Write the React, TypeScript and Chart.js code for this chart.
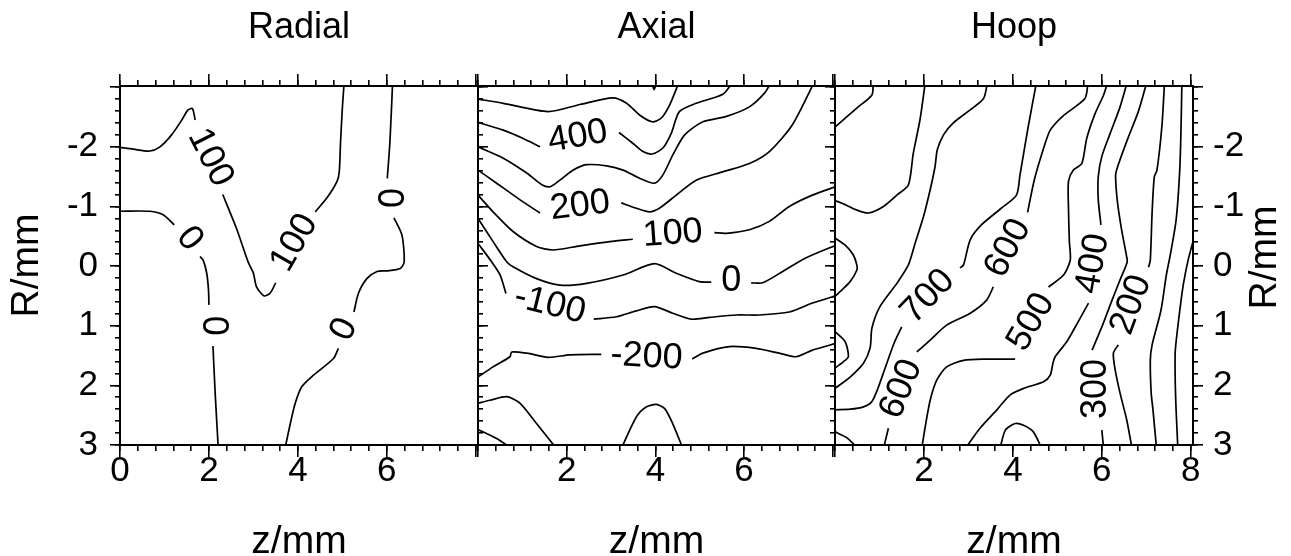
import React, { useEffect, useRef } from 'react';
import { Chart, registerables } from 'chart.js';

Chart.register(...registerables);

type Pt = [number, number];
type ContourLabel = [string, number, number, number]; // text, z, R, angle(deg)

// ---------- axes ----------
const Z_RANGE: [number, number] = [0, 8.05];
const R_RANGE: [number, number] = [-3.02, 3];
const panelTitles = ['Radial', 'Axial', 'Hoop'];
const xTickLabelsRadial = [0, 2, 4, 6];
const xTickLabelsAxial = [2, 4, 6];
const xTickLabelsHoop = [2, 4, 6, 8];
const yTickLabels = [-2, -1, 0, 1, 2, 3];

// ---------- Radial contours (z, R) ----------
const radial100a: Pt[] = [[0, -1.99], [0.3, -1.96], [0.67, -1.93], [0.9, -2.0], [1.16, -2.2], [1.39, -2.45], [1.53, -2.62], [1.63, -2.64], [1.69, -2.45]];
const radial100b: Pt[] = [[2.31, -1.2], [2.62, -0.63], [2.88, -0.07], [3.0, 0.12], [3.07, 0.35], [3.24, 0.5], [3.38, 0.45], [3.5, 0.28]];
const radial100c: Pt[] = [[4.39, -0.91], [4.65, -1.14], [4.88, -1.42], [4.93, -1.58], [4.96, -2.09], [5.0, -2.65], [5.04, -3.08]];
const radial0La: Pt[] = [[0, -0.92], [0.67, -0.92], [0.97, -0.86], [1.22, -0.69]];
const radial0Lb: Pt[] = [[1.8, -0.16], [1.87, -0.1], [1.95, 0.12], [1.99, 0.4], [2.0, 0.65]];
const radial0Lc: Pt[] = [[2.09, 1.34], [2.14, 2.13], [2.21, 3.06]];
const radial0Ra: Pt[] = [[6.13, -3.08], [6.07, -2.09], [6.01, -1.47]];
const radial0Rb: Pt[] = [[6.16, -0.81], [6.34, -0.52], [6.39, -0.07], [6.3, 0.04], [6.0, 0.08], [5.78, 0.09], [5.55, 0.21], [5.36, 0.46], [5.26, 0.77]];
const radial0Rc: Pt[] = [[4.91, 1.38], [4.8, 1.55], [4.35, 1.83], [4.09, 2.02], [3.94, 2.3], [3.83, 2.64], [3.71, 3.06]];
const radialLabels: ContourLabel[] = [
  ['100', 2.03, -1.82, 63], ['100', 3.92, -0.39, -60], ['0', 1.56, -0.46, 52],
  ['0', 2.09, 1.0, 90], ['0', 6.02, -1.14, 90], ['0', 5.04, 1.06, -64],
];

// ---------- Axial contours ----------
const axial500: Pt[] = [[0, -2.8], [0.57, -2.73], [1.58, -2.59], [2.3, -2.71], [3.04, -2.82], [3.35, -2.73], [3.65, -2.53], [3.93, -2.42], [4.13, -2.48], [4.32, -2.7], [4.53, -3.08]];
const axialNub: Pt[] = [[3.92, -3.08], [3.97, -2.96], [4.03, -3.08]];
const axial400a: Pt[] = [[0, -2.41], [0.57, -2.28], [1.02, -2.14], [1.4, -2.0]];
const axial400b: Pt[] = [[3.18, -2.24], [3.49, -2.06], [3.72, -1.92], [3.93, -1.88], [4.17, -1.98], [4.36, -2.23], [4.54, -2.59], [4.92, -2.73], [5.52, -2.88], [5.74, -3.08]];
const axial300: Pt[] = [[0, -2.0], [0.57, -1.81], [1.1, -1.56], [1.43, -1.37], [1.62, -1.33], [1.81, -1.42], [2.15, -1.61], [2.45, -1.7], [2.9, -1.68], [3.27, -1.61], [3.65, -1.47], [3.98, -1.39], [4.17, -1.53], [4.39, -1.86], [4.66, -2.2], [5.07, -2.42], [5.6, -2.51], [6.12, -2.67], [6.46, -2.9], [6.61, -3.08]];
const axial200a: Pt[] = [[0, -1.61], [0.42, -1.39], [0.95, -1.11], [1.4, -0.89]];
const axial200b: Pt[] = [[3.23, -1.06], [3.57, -0.97], [3.87, -0.91], [4.09, -0.97], [4.47, -1.19], [4.92, -1.44], [5.52, -1.58], [6.12, -1.72], [6.57, -1.92], [7.09, -2.37], [7.58, -3.08]];
const axial100a: Pt[] = [[0, -1.19], [0.34, -0.91], [0.79, -0.58], [1.32, -0.33], [1.69, -0.27], [2.3, -0.34], [2.97, -0.41], [3.49, -0.45]];
const axial100b: Pt[] = [[5.33, -0.56], [5.6, -0.55], [6.12, -0.61], [6.57, -0.75], [7.02, -1.0], [7.54, -1.19], [8.1, -1.34]];
const axial0a: Pt[] = [[0, -0.8], [0.34, -0.41], [0.65, -0.07], [0.79, 0.01], [1.32, 0.21], [1.85, 0.32], [2.45, 0.29], [3.27, 0.15], [3.98, -0.04], [4.47, 0.12], [4.99, 0.26], [5.26, 0.27]];
const axial0b: Pt[] = [[6.16, 0.28], [6.42, 0.28], [6.87, 0.09], [7.4, -0.14], [8.1, -0.36]];
const axialM100a: Pt[] = [[0, -0.38], [0.31, -0.07], [0.5, 0.15], [0.63, 0.46]];
const axialM100b: Pt[] = [[2.61, 0.89], [3.12, 0.85], [3.57, 0.75], [3.98, 0.68], [4.39, 0.79], [4.81, 0.89], [5.22, 0.86], [5.82, 0.82], [6.34, 0.82], [7.02, 0.77], [7.54, 0.62], [8.1, 0.49]];
const axialM200a: Pt[] = [[0, 1.86], [0.34, 1.69], [0.72, 1.52], [0.76, 1.44], [1.1, 1.46], [1.58, 1.53], [2.07, 1.49], [2.78, 1.48]];
const axialM200b: Pt[] = [[4.83, 1.56], [5.07, 1.46], [5.67, 1.35], [6.27, 1.38], [6.79, 1.46], [7.17, 1.52], [7.54, 1.41], [8.1, 1.29]];
const axialM300: Pt[] = [[0, 2.3], [0.27, 2.25], [0.65, 2.19], [0.95, 2.3], [1.32, 2.64], [1.77, 3.06]];
const axialM400: Pt[] = [[0, 2.74], [0.42, 2.89], [0.76, 3.06]];
const axialBump: Pt[] = [[3.23, 3.06], [3.57, 2.53], [3.8, 2.36], [4.02, 2.32], [4.21, 2.39], [4.39, 2.64], [4.62, 3.06]];
const axialLabels: ContourLabel[] = [
  ['400', 2.25, -2.17, -10], ['200', 2.3, -1.01, -7], ['100', 4.39, -0.54, -4],
  ['0', 5.71, 0.25, 0], ['-100', 1.62, 0.65, 14], ['-200', 3.8, 1.52, 3],
];

// ---------- Hoop contours ----------
const hoopH1: Pt[] = [[0.86, -3.08], [0.83, -2.87], [0.49, -2.65], [0.23, -2.48], [0, -2.33]];
const hoopH2: Pt[] = [[2.03, -3.08], [1.91, -2.45], [1.76, -1.89], [1.65, -1.36], [1.39, -1.19], [1.09, -1.0], [0.75, -0.89], [0.49, -0.94], [0.23, -1.03], [0, -1.1]];
const hoopH3: Pt[] = [[0, -0.47], [0.23, -0.35], [0.41, -0.19], [0.49, -0.02], [0.49, 0.07], [0.34, 0.26], [0.11, 0.43], [0, 0.51]];
const hoopH4: Pt[] = [[0, 1.1], [0.23, 1.27], [0.3, 1.52], [0.18, 1.61], [0, 1.71]];
const hoop800: Pt[] = [[3.43, -3.08], [3.34, -2.81], [3.04, -2.62], [2.66, -2.4], [2.44, -2.2], [2.3, -1.95], [2.25, -1.67], [2.14, -1.28], [1.99, -0.83], [1.8, -0.38], [1.65, -0.02], [1.39, 0.29], [1.01, 0.68], [0.83, 1.04], [0.79, 1.37], [0.64, 1.63], [0.34, 1.86], [0, 2.05]];
const hoop700a: Pt[] = [[4.53, -3.08], [4.34, -2.32], [4.16, -1.53], [4.08, -1.19], [3.74, -0.97], [3.29, -0.69], [3.04, -0.44], [2.89, -0.02], [2.81, 0.03]];
const hoop700b: Pt[] = [[1.5, 1.02], [1.33, 1.29], [1.15, 1.66], [0.97, 2.04], [0.83, 2.27], [0.64, 2.36], [0.34, 2.4], [0, 2.41]];
const hoopCorner: Pt[] = [[0, 2.78], [0.27, 2.88], [0.52, 3.06]];
const hoop600a: Pt[] = [[1.09, 3.06], [1.2, 2.72]];
const hoop600b: Pt[] = [[1.84, 1.44], [2.14, 1.24], [2.51, 0.99], [3.04, 0.79], [3.41, 0.57], [3.56, 0.35]];
const hoop600c: Pt[] = [[4.33, -0.9], [4.48, -1.44], [4.68, -1.95], [4.84, -2.28], [5.13, -2.52], [5.62, -2.81], [5.69, -3.08]];
const hoop500a: Pt[] = [[1.95, 3.06], [2.03, 2.69], [2.14, 2.25], [2.29, 1.91], [2.51, 1.69], [2.89, 1.58], [3.41, 1.56], [4.05, 1.56]];
const hoop500b: Pt[] = [[4.8, 0.35], [5.14, 0.15], [5.29, -0.1], [5.27, -0.41], [5.25, -0.97], [5.25, -1.42], [5.36, -1.61], [5.55, -1.72], [5.66, -2.14], [5.85, -2.56], [6.04, -2.87], [6.13, -3.08]];
const hoop400a: Pt[] = [[6.57, -3.08], [6.41, -2.67], [6.19, -2.23], [6.0, -1.84], [5.92, -1.5], [5.92, -1.11], [5.98, -0.69]];
const hoop400b: Pt[] = [[5.7, 0.62], [5.47, 0.93], [5.21, 1.27], [4.95, 1.52], [4.9, 1.63], [4.84, 1.83], [4.69, 1.94], [4.24, 2.05], [3.94, 2.16], [3.64, 2.41], [3.26, 2.72], [2.93, 3.06]];
const hoopBump: Pt[] = [[3.71, 3.06], [3.83, 2.75], [4.05, 2.64], [4.24, 2.67], [4.46, 2.78], [4.65, 3.06]];
const hoop300a: Pt[] = [[7.01, -3.08], [6.82, -2.59], [6.59, -2.15], [6.37, -1.7], [6.31, -1.53], [6.35, -1.08], [6.44, -0.63], [6.55, -0.19], [6.57, -0.07], [6.41, 0.23], [6.23, 0.57], [6.0, 1.02], [5.78, 1.41]];
const hoop300b: Pt[] = [[6.0, 2.75], [6.04, 3.06]];
const hoop200a: Pt[] = [[7.41, -3.08], [7.35, -2.34], [7.24, -1.61], [7.18, -1.5], [7.13, -0.89], [7.09, -0.1], [7.05, 0.02]];
const hoop200b: Pt[] = [[6.37, 1.32], [6.26, 1.46], [6.3, 1.74], [6.41, 2.13], [6.56, 2.58], [6.68, 3.06]];
const hoop100: Pt[] = [[7.8, -3.08], [7.78, -2.28], [7.75, -1.58], [7.67, -0.77], [7.54, -0.19], [7.45, 0.15], [7.33, 0.74], [7.13, 1.32], [7.09, 1.58], [7.11, 2.13], [7.15, 2.41], [7.23, 3.06]];
const hoop0: Pt[] = [[8.1, -0.55], [7.94, -0.1], [7.83, 0.32], [7.76, 0.7], [7.7, 1.07], [7.65, 1.44], [7.65, 1.91], [7.67, 2.41], [7.71, 3.06]];
const hoopLabels: ContourLabel[] = [
  ['700', 2.09, 0.51, -46], ['600', 1.49, 2.06, -68], ['600', 3.89, -0.3, -62],
  ['500', 4.41, 0.94, -60], ['400', 5.8, -0.04, -80], ['300', 5.87, 2.06, -90], ['200', 6.66, 0.65, -70],
];

const radialSegments = [radial100a, radial100b, radial100c, radial0La, radial0Lb, radial0Lc, radial0Ra, radial0Rb, radial0Rc];
const axialSegments = [axial500, axialNub, axial400a, axial400b, axial300, axial200a, axial200b, axial100a, axial100b, axial0a, axial0b, axialM100a, axialM100b, axialM200a, axialM200b, axialM300, axialM400, axialBump];
const hoopSegments = [hoopH1, hoopH2, hoopH3, hoopH4, hoop800, hoop700a, hoop700b, hoopCorner, hoop600a, hoop600b, hoop600c, hoop500a, hoop500b, hoop400a, hoop400b, hoopBump, hoop300a, hoop300b, hoop200a, hoop200b, hoop100, hoop0];

// ---------- layout ----------
const CANVAS_W = 1291;
const CANVAS_H = 556;
const PLOT_BOTTOM = 445;
const PANEL_EDGES: [number, number][] = [[120, 478], [478, 835], [835, 1193]];
const FONT = "'Liberation Sans', Arial, Helvetica, sans-serif";
const BLACK = '#000';
const TICK_SIZE = 35;
const AXIS_TITLE_SIZE = 39;
const LABEL_SIZE = 36;

const near = (v: number, list: number[]) => list.some((s) => Math.abs(s - v) < 1e-6);

function contourLabelPlugin(labels: ContourLabel[]) {
  return {
    id: 'contourLabels',
    afterDatasetsDraw(chart: any) {
      const { ctx, scales } = chart;
      ctx.save();
      ctx.fillStyle = BLACK;
      ctx.font = `${LABEL_SIZE}px ${FONT}`;
      ctx.textAlign = 'center';
      ctx.textBaseline = 'middle';
      for (const [text, z, r, ang] of labels) {
        const px = scales.x.getPixelForValue(z);
        const py = scales.y.getPixelForValue(r);
        ctx.save();
        ctx.translate(px, py);
        ctx.rotate((ang * Math.PI) / 180);
        ctx.fillText(text, 0, 0);
        ctx.restore();
      }
      ctx.restore();
    },
  };
}

const rightTitlePlugin = {
  id: 'rightTitle',
  afterDraw(chart: any) {
    const s = chart.scales.yR;
    if (!s) return;
    const ctx = chart.ctx;
    ctx.save();
    ctx.fillStyle = BLACK;
    ctx.font = `${AXIS_TITLE_SIZE}px ${FONT}`;
    ctx.textAlign = 'center';
    ctx.textBaseline = 'middle';
    ctx.translate(s.right - 26, (s.top + s.bottom) / 2 - 8);
    ctx.rotate(-Math.PI / 2);
    ctx.fillText('R/mm', 0, 0);
    ctx.restore();
  },
};

function tickGrid(len: number) {
  return { display: true, drawOnChartArea: false, drawTicks: true, tickLength: len, color: BLACK, lineWidth: 1.6 };
}

function buildConfig(idx: number): any {
  const [left, right] = PANEL_EDGES[idx];
  const segments = [radialSegments, axialSegments, hoopSegments][idx];
  const labels = [radialLabels, axialLabels, hoopLabels][idx];
  const xShown = [xTickLabelsRadial, xTickLabelsAxial, xTickLabelsHoop][idx];
  const xBase = { type: 'linear', min: Z_RANGE[0], max: Z_RANGE[1] };
  const yBase = { type: 'linear', min: R_RANGE[0], max: R_RANGE[1], reverse: true };
  const tickFont = { family: FONT, size: TICK_SIZE, lineHeight: 1 };
  const zero = (s: any) => { s.height = 0; };
  const zeroW = (s: any) => { s.width = 0; };

  const scales: any = {
    x: {
      ...xBase, position: 'bottom', weight: 1,
      border: { display: true, color: BLACK, width: 2 },
      grid: tickGrid(12),
      ticks: {
        stepSize: 2, includeBounds: false, autoSkip: false, maxRotation: 0, minRotation: 0,
        padding: -3, color: BLACK, font: tickFont,
        callback: (v: number) => (near(v, xShown) ? String(v) : ''),
      },
      title: { display: true, text: 'z/mm', color: BLACK, font: { family: FONT, size: AXIS_TITLE_SIZE, lineHeight: 1.2 }, padding: { top: 0, bottom: -10 } },
      afterFit: (s: any) => { s.height = CANVAS_H - PLOT_BOTTOM; },
    },
    xMinor: {
      ...xBase, position: 'bottom', weight: 0, border: { display: false }, grid: tickGrid(6),
      ticks: { display: false, stepSize: 0.4, includeBounds: false, autoSkip: false }, afterFit: zero,
    },
    xTop: {
      ...xBase, position: 'top', weight: 1, border: { display: true, color: BLACK, width: 2 }, grid: tickGrid(12),
      ticks: { display: false, stepSize: 2, includeBounds: false, autoSkip: false }, afterFit: zero,
    },
    xTopMinor: {
      ...xBase, position: 'top', weight: 0, border: { display: false }, grid: tickGrid(6),
      ticks: { display: false, stepSize: 0.4, includeBounds: false, autoSkip: false }, afterFit: zero,
    },
  };

  const yLabelCb = (v: number) => (near(v, yTickLabels) ? String(v) : '');

  if (idx === 1) {
    scales.y = { ...yBase, position: 'left', display: false };
  } else {
    scales.y = {
      ...yBase, position: 'left', weight: 1,
      border: { display: true, color: BLACK, width: 2 }, grid: tickGrid(10),
      ticks: { display: idx === 0, stepSize: 1, includeBounds: false, autoSkip: false, padding: 12, color: BLACK, font: tickFont, callback: yLabelCb },
      title: { display: idx === 0, text: 'R/mm', color: BLACK, font: { family: FONT, size: AXIS_TITLE_SIZE, lineHeight: 1.2 }, padding: { top: 4, bottom: 0 } },
      afterFit: idx === 0 ? (s: any) => { s.width = left; } : zeroW,
    };
    scales.yMinor = {
      ...yBase, position: 'left', weight: 0, border: { display: false }, grid: tickGrid(5),
      ticks: { display: false, stepSize: 0.2, includeBounds: false, autoSkip: false }, afterFit: zeroW,
    };
    scales.yR = {
      ...yBase, position: 'right', weight: 1,
      border: { display: true, color: BLACK, width: 2 }, grid: tickGrid(10),
      ticks: { display: idx === 2, stepSize: 1, includeBounds: false, autoSkip: false, padding: 10, color: BLACK, font: tickFont, callback: yLabelCb },
      afterFit: idx === 2 ? (s: any) => { s.width = CANVAS_W - right; } : zeroW,
    };
    scales.yRMinor = {
      ...yBase, position: 'right', weight: 0, border: { display: false }, grid: tickGrid(5),
      ticks: { display: false, stepSize: 0.2, includeBounds: false, autoSkip: false }, afterFit: zeroW,
    };
  }

  const plugins: any[] = [contourLabelPlugin(labels)];
  if (idx === 2) plugins.push(rightTitlePlugin);

  return {
    type: 'scatter',
    data: {
      datasets: segments.map((seg) => ({
        data: seg.map(([x, y]) => ({ x, y })),
        showLine: true,
        borderColor: BLACK,
        borderWidth: 1.7,
        pointRadius: 0,
        pointHoverRadius: 0,
        tension: 0.25,
        fill: false,
        xAxisID: 'x',
        yAxisID: 'y',
      })),
    },
    options: {
      responsive: false,
      animation: false,
      events: [],
      layout: {
        padding: {
          left: idx === 0 ? 0 : left,
          right: idx === 2 ? 0 : CANVAS_W - right,
          top: 0,
          bottom: 0,
        },
      },
      plugins: {
        legend: { display: false },
        tooltip: { enabled: false },
        title: {
          display: true, text: panelTitles[idx], fullSize: false, color: BLACK,
          font: { family: FONT, size: 36, weight: 'normal', lineHeight: 1 },
          padding: { top: 10, bottom: 40 },
        },
      },
      scales,
    },
    plugins,
  };
}

export default function App() {
  const r0 = useRef<HTMLCanvasElement>(null);
  const r1 = useRef<HTMLCanvasElement>(null);
  const r2 = useRef<HTMLCanvasElement>(null);
  const refs = [r0, r1, r2];

  useEffect(() => {
    document.body.style.margin = '0';
    Chart.defaults.color = BLACK;
    Chart.defaults.font.family = FONT;
    const charts = refs.map((r, i) => new Chart(r.current as HTMLCanvasElement, buildConfig(i)));
    return () => charts.forEach((c) => c.destroy());
  }, []);

  return (
    <div style={{ position: 'relative', width: CANVAS_W, height: CANVAS_H, overflow: 'hidden', background: '#fff' }}>
      {refs.map((r, i) => (
        <canvas key={i} ref={r} width={CANVAS_W} height={CANVAS_H} style={{ position: 'absolute', left: 0, top: 0 }} />
      ))}
    </div>
  );
}
